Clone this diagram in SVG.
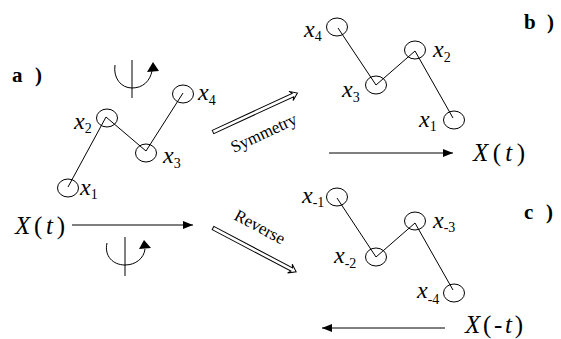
<svg xmlns="http://www.w3.org/2000/svg" width="561" height="339" viewBox="0 0 561 339">
<style>
text{font-family:"Liberation Serif","Times New Roman",Times,"DejaVu Serif",serif;fill:#000}
.c{fill:none;stroke:#000;stroke-width:1}
.l{stroke:#000;stroke-width:1;fill:none}
.v{font-style:italic;font-size:24px}
.s{font-size:14px;font-style:normal}
.p{font-weight:bold;font-size:21px}
.X{font-style:italic;font-size:25px}
.n{font-style:normal}
.t{font-size:17px}
.h{stroke:#000;stroke-width:1;fill:#fff}
</style>
<defs>
<marker id="ah" viewBox="0 0 10 8" refX="10" refY="4" markerWidth="10" markerHeight="8" markerUnits="userSpaceOnUse" orient="auto"><path d="M0,0L10,4L0,8z" fill="#000"/></marker>
</defs>
<rect width="561" height="339" fill="#fff"/>
<text class="p" x="12" y="82" textLength="30" lengthAdjust="spacing">a )</text>
<text class="p" x="524" y="29" textLength="30" lengthAdjust="spacing">b )</text>
<text class="p" x="524" y="219" textLength="29" lengthAdjust="spacing">c )</text>
<g id="connectors">
<polyline class="l" points="68,187 106,117 146,151 183,93"/>
<polyline class="l" points="338,28 376,85 415,51 453,118"/>
<polyline class="l" points="337,198 376,257 415,223 453,290"/>
<line class="l" x1="72" y1="225" x2="193" y2="225" marker-end="url(#ah)"/>
<line class="l" x1="329" y1="153" x2="453" y2="153" marker-end="url(#ah)"/>
<line class="l" x1="445" y1="328" x2="322" y2="328" marker-end="url(#ah)"/>
<g transform="translate(213,132) rotate(-24.8)">
<path class="h" d="M0,-1.8L88,-1.8L86,-5L93,0L86,5L88,1.8L0,1.8z"/>
</g>
<g transform="translate(213,228) rotate(27.8)">
<path class="h" d="M0,-1.8L89,-1.8L87,-5L94,0L87,5L89,1.8L0,1.8z"/>
</g>
<text class="t" transform="translate(234,153) rotate(-25)">Symmetry</text>
<text class="t" transform="translate(233,219) rotate(28)">Reverse</text>
</g>
<g id="rot-top">
<line class="l" x1="132" y1="60" x2="132" y2="98"/>
<path class="l" d="M115,65C113,78 121,88 132,88C143,88 150,81 152,71"/>
<path d="M153,62L147,72L159,71z" fill="#000"/>
</g>
<g id="rot-bottom">
<line class="l" x1="125" y1="237" x2="125" y2="276"/>
<path class="l" d="M107,243C104,256 113,265 125,265C136,265 144,258 145,249"/>
<path d="M144,240L139,249L151,248z" fill="#000"/>
</g>
<g id="a-x1"><ellipse class="c" cx="68" cy="188" rx="10.5" ry="9"/><text class="v" x="80" y="195">x<tspan class="s" dy="4">1</tspan></text></g>
<g id="a-x2"><ellipse class="c" cx="107" cy="118" rx="10.5" ry="9"/><text class="v" x="74" y="129">x<tspan class="s" dy="4">2</tspan></text></g>
<g id="a-x3"><ellipse class="c" cx="146" cy="153" rx="10.5" ry="9"/><text class="v" x="163" y="163">x<tspan class="s" dy="5">3</tspan></text></g>
<g id="a-x4"><ellipse class="c" cx="183" cy="94" rx="10.5" ry="9"/><text class="v" x="198" y="100">x<tspan class="s" dy="5">4</tspan></text></g>
<g id="b-x4"><ellipse class="c" cx="337" cy="27" rx="10.5" ry="9"/><text class="v" x="304" y="37">x<tspan class="s" dy="4">4</tspan></text></g>
<g id="b-x3"><ellipse class="c" cx="376" cy="85" rx="10.5" ry="9"/><text class="v" x="342" y="97">x<tspan class="s" dy="5">3</tspan></text></g>
<g id="b-x2"><ellipse class="c" cx="415" cy="50" rx="10.5" ry="9"/><text class="v" x="433" y="57">x<tspan class="s" dy="5">2</tspan></text></g>
<g id="b-x1"><ellipse class="c" cx="454" cy="120" rx="10.5" ry="9"/><text class="v" x="419" y="127">x<tspan class="s" dy="4">1</tspan></text></g>
<g id="c-x-1"><ellipse class="c" cx="337" cy="197" rx="10.5" ry="9"/><text class="v" x="302" y="203">x<tspan class="s" dy="4">-1</tspan></text></g>
<g id="c-x-2"><ellipse class="c" cx="376" cy="257" rx="10.5" ry="9"/><text class="v" x="334" y="263">x<tspan class="s" dy="5">-2</tspan></text></g>
<g id="c-x-3"><ellipse class="c" cx="415" cy="221" rx="10.5" ry="9"/><text class="v" x="433" y="228">x<tspan class="s" dy="4">-3</tspan></text></g>
<g id="c-x-4"><ellipse class="c" cx="454" cy="293" rx="10.5" ry="9"/><text class="v" x="417" y="298">x<tspan class="s" dy="6">-4</tspan></text></g>
<g id="Xt-a"><text class="X" x="15" y="234" textLength="50">X<tspan class="n">(</tspan>t<tspan class="n">)</tspan></text></g>
<g id="Xt-b"><text class="X" x="473" y="161" textLength="52">X<tspan class="n">(</tspan>t<tspan class="n">)</tspan></text></g>
<g id="Xt-c"><text class="X" x="465" y="333" textLength="58">X<tspan class="n">(-</tspan>t<tspan class="n">)</tspan></text></g>
</svg>
